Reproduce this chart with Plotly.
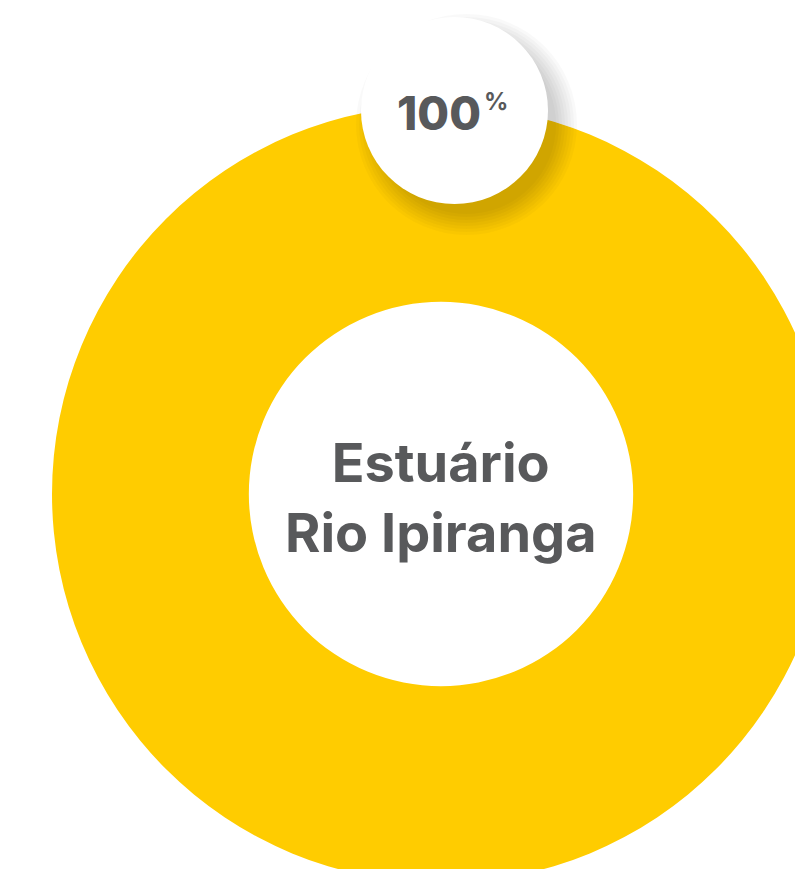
import plotly.graph_objects as go

# ---- data ----
labels = ["Estuário Rio Ipiranga"]
values = [100]
share_label = "100"
share_unit = "%"
center_title = "Estuário<br>Rio Ipiranga"

YELLOW = "#FFCC00"
GRAY = "#58595B"
FONT = "Inter"

W, H = 830, 883
ML, MT = 52, 105
PW, PH = W - ML, H - MT


def px(x):
    return (x - ML) / PW


def py(y):
    return 1 - (y - MT) / PH


fig = go.Figure()
fig.add_trace(go.Pie(
    labels=labels, values=values, hole=0.494, sort=False,
    marker=dict(colors=[YELLOW], line=dict(width=0)),
    textinfo="none", hoverinfo="none", showlegend=False,
    domain=dict(x=[0, 1], y=[0, 1]),
))

shapes = []
cx, cy, r = 454.5, 110.5, 93.5
# soft shadow
for k in range(8):
    rr = r - 4 + k * 3
    shapes.append(dict(
        type="circle", xref="paper", yref="paper",
        xsizemode="pixel", ysizemode="pixel",
        xanchor=px(cx + 12), yanchor=py(cy + 14),
        x0=-rr, x1=rr, y0=-rr, y1=rr,
        fillcolor="rgba(0,0,0,0.022)", line=dict(width=0), layer="above",
    ))
shapes.append(dict(
    type="circle", xref="paper", yref="paper",
    xsizemode="pixel", ysizemode="pixel",
    xanchor=px(cx), yanchor=py(cy),
    x0=-r, x1=r, y0=-r, y1=r,
    fillcolor="white", line=dict(width=0), layer="above",
))

annotations = [
    dict(text=center_title, x=px(441), y=py(497), xref="paper", yref="paper",
         showarrow=False, xanchor="center", yanchor="middle",
         font=dict(family=FONT, size=54, color=GRAY, weight="bold")),
    dict(text=share_label, x=px(483), y=py(113), xref="paper", yref="paper",
         showarrow=False, xanchor="right", yanchor="middle",
         font=dict(family=FONT, size=46, color=GRAY, weight=800)),
    dict(text=share_unit, x=px(482), y=py(102), xref="paper", yref="paper",
         showarrow=False, xanchor="left", yanchor="middle",
         font=dict(family=FONT, size=24, color=GRAY, weight="bold")),
]

fig.update_layout(
    width=W, height=H,
    margin=dict(l=ML, r=0, t=MT, b=0, pad=0),
    paper_bgcolor="white", plot_bgcolor="white",
    shapes=shapes, annotations=annotations,
)

fig.write_html(
    "out.html",
    config={"displayModeBar": False},
    post_script="document.body.style.margin='0';document.body.style.overflow='hidden';document.documentElement.style.overflow='hidden';",
)
